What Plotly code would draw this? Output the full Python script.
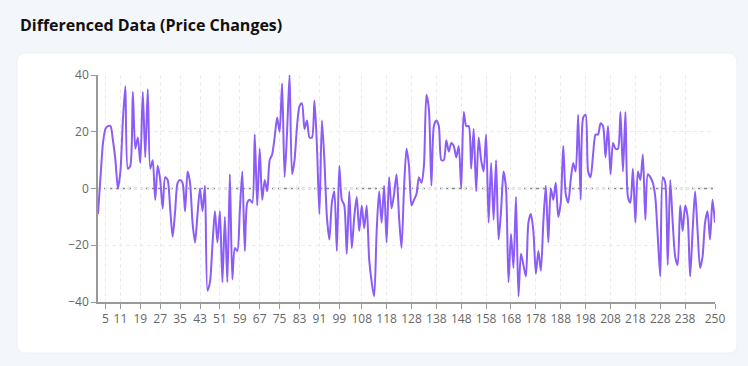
import plotly.graph_objects as go

# ---------------- data ----------------
x_index = list(range(2, 251))
price_change = [
    -9, 4, 16, 21, 22, 22, 17, 10, 0, 6,          # 2-11
    24, 36, 7, 8, 34, 14, 18, 9, 34, 11,           # 12-21
    35, 7, 10, -4, 8, 3, -7, 4, 3, -7,             # 22-31
    -17, -8, 2, 3, 2, -8, 6, 2, -12, -19,          # 32-41
    -9, 0, -8, 1, -36, -33, -20, -8, -19, -8,      # 42-51
    -33, -10, -33, 5, -32, -21, -22, -8, 6, -22,   # 52-61
    -5, -4, -5, 19, -6, 14, -4, 3, -1, 10,         # 62-71
    12, 18, 25, 20, 37, 4, 20, 40, 5, 10,          # 72-81
    22, 29, 30, 21, 24, 18, 18, 31, 15, -9,        # 82-91
    24, 10, -10, -18, -5, -1, -22, 8, -4, -6,      # 92-101
    -23, -1, -21, -10, -3, -15, -6, -14, -6, -25,  # 102-111
    -33, -38, -15, -1, -12, 1, -19, 4, -7, -2,     # 112-121
    5, -10, -21, 0, 14, 8, -6, -4, -2, 4,          # 122-131
    2, 8, 33, 28, 1, 22, 24, 22, 10, 10,           # 132-141
    17, 13, 16, 15, 11, 15, 0, 27, 22, 22,         # 142-151
    7, 21, -1, 18, 10, 6, 19, -12, 9, -11,         # 152-161
    10, -18, -8, 6, 0, -33, -16, -28, -3, -38,     # 162-171
    -23, -27, -31, -12, -9, -15, -30, -22, -29, -12,  # 172-181
    1, -19, 0, -4, 2, -10, -5, 15, -2, -5,         # 182-191
    3, 9, 6, 26, -4, 25, 26, 6, 4, 12,             # 192-201
    19, 19, 23, 22, 11, 22, 5, 16, 14, 14,         # 202-211
    27, 6, 27, -3, -5, 7, -12, 6, 3, 12,           # 212-221
    -11, 5, 4, 2, -3, -17, -31, 4, 2, -27,         # 222-231
    3, -12, -24, -27, -6, -15, -6, -10, -31, -15,  # 232-241
    -1, -15, -28, -24, -12, -8, -18, -4, -12,      # 242-250
]
assert len(price_change) == len(x_index)

x_tick_vals = [5, 11, 19, 27, 35, 43, 51, 59, 67, 75, 83, 91, 99, 108, 118,
               128, 138, 148, 158, 168, 178, 188, 198, 208, 218, 228, 238, 250]
y_tick_vals = [-40, -20, 0, 20, 40]
title_text = "Differenced Data (Price Changes)"

# ---------------- layout geometry (pixels) ----------------
W, H = 748, 366
ML, MR, MT, MB = 98, 33, 75, 64
PW, PH = W - ML - MR, H - MT - MB
BG = "#f3f6fb"


def px(xp):
    return (xp - ML) / PW


def py(yp):
    return (H - MB - yp) / PH


def rounded_rect(x0, y0, x1, y1, r):
    pts = [
        f"M {px(x0 + r)},{py(y0)}",
        f"L {px(x1 - r)},{py(y0)}",
        f"Q {px(x1)},{py(y0)} {px(x1)},{py(y0 + r)}",
        f"L {px(x1)},{py(y1 - r)}",
        f"Q {px(x1)},{py(y1)} {px(x1 - r)},{py(y1)}",
        f"L {px(x0 + r)},{py(y1)}",
        f"Q {px(x0)},{py(y1)} {px(x0)},{py(y1 - r)}",
        f"L {px(x0)},{py(y0 + r)}",
        f"Q {px(x0)},{py(y0)} {px(x0 + r)},{py(y0)}",
        "Z",
    ]
    return " ".join(pts)


fig = go.Figure()
fig.add_trace(go.Scatter(
    x=x_index, y=price_change, mode="lines",
    line=dict(color="#8b5cf6", width=2, shape="spline", smoothing=0.7),
    hoverinfo="skip", showlegend=False,
))

font_family = "Open Sans, Noto Sans, DejaVu Sans, sans-serif"

fig.update_layout(
    width=W, height=H, autosize=False,
    margin=dict(l=ML, r=MR, t=MT, b=MB, pad=0),
    paper_bgcolor=BG,
    plot_bgcolor="rgba(0,0,0,0)",
    font=dict(family=font_family, size=12, color="#666666"),
    xaxis=dict(
        range=[2, 250], tickmode="array", tickvals=x_tick_vals,
        showline=True, linecolor="#999999", linewidth=1.5,
        ticks="outside", ticklen=5, tickcolor="#999999", tickwidth=1,
        showgrid=True, gridcolor="#ececec", griddash="4px,3px", gridwidth=1,
        zeroline=False, tickfont=dict(size=12, color="#666666"),
        fixedrange=True,
    ),
    yaxis=dict(
        range=[-40, 40], tickmode="array", tickvals=y_tick_vals,
        showline=True, linecolor="#999999", linewidth=1.5,
        ticks="outside", ticklen=5, tickcolor="#999999", tickwidth=1,
        showgrid=True, gridcolor="#ececec", griddash="4px,3px", gridwidth=1,
        zeroline=False, tickfont=dict(size=12, color="#666666"),
        fixedrange=True,
    ),
    shapes=[
        dict(type="path", xref="paper", yref="paper", layer="below",
             path=rounded_rect(17, 53, 737, 353, 9),
             fillcolor="#ffffff", line=dict(color="#eef1f6", width=1)),
        dict(type="line", xref="paper", yref="y", x0=0, x1=1, y0=0, y1=0,
             layer="below", line=dict(color="#888888", width=1.5, dash="3px,3px")),
    ],
    annotations=[
        dict(text=f"<b>{title_text}</b>", xref="paper", yref="paper",
             x=px(18), y=py(25), xanchor="left", yanchor="middle",
             showarrow=False, font=dict(size=16, color="#111111", family=font_family)),
    ],
)

fig.write_html(
    "out.html",
    config={"displayModeBar": False},
    post_script=(
        "document.documentElement.style.margin='0';"
        "document.body.style.margin='0';"
        f"document.body.style.background='{BG}';"
    ),
)
